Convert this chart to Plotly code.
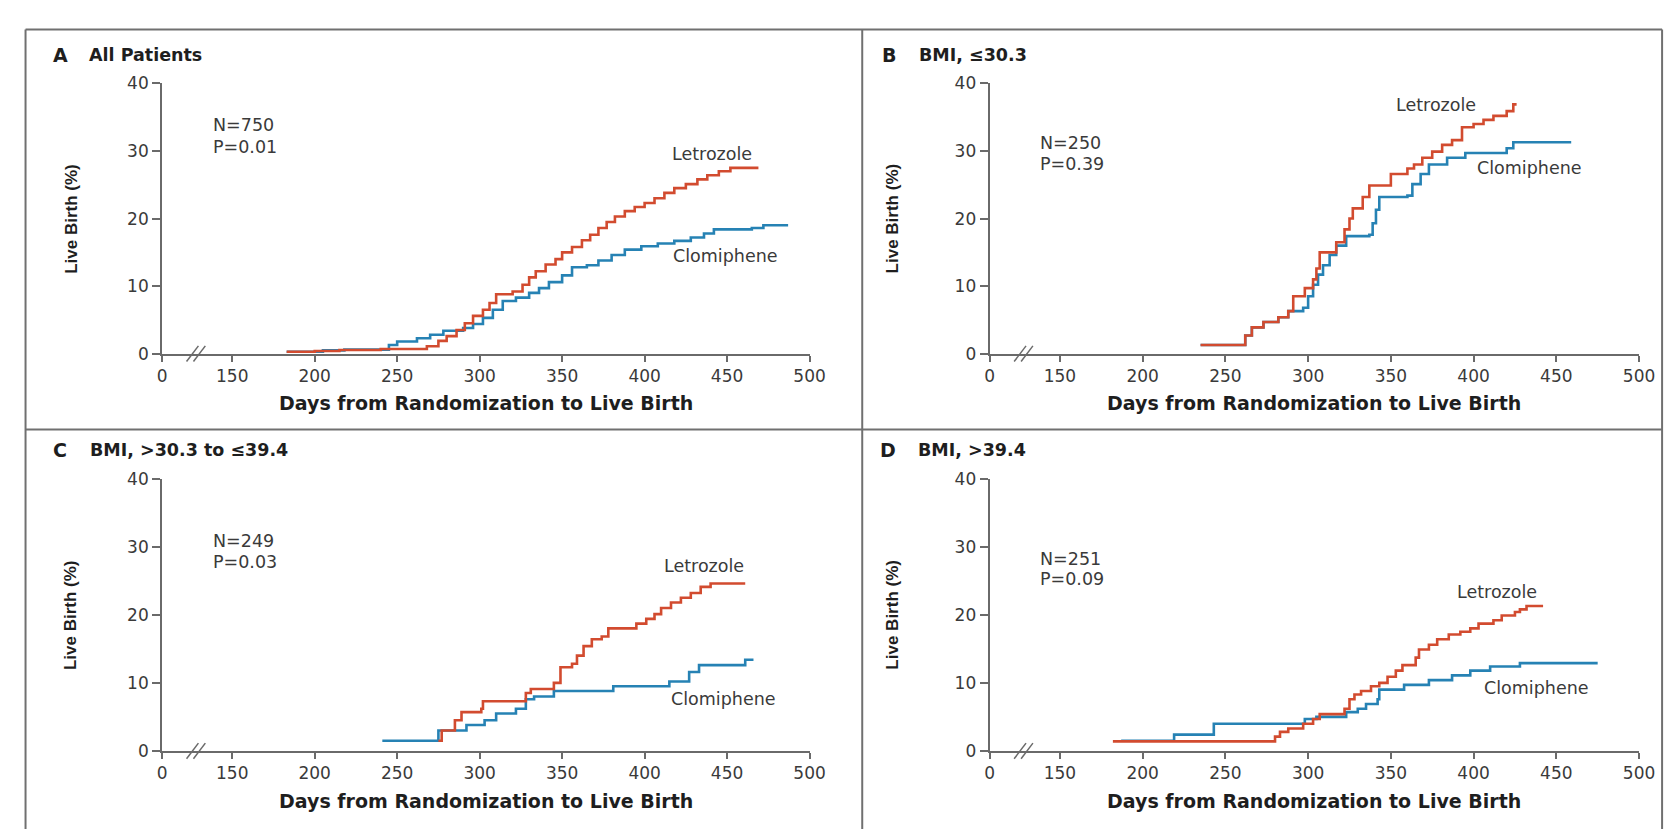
import plotly.graph_objects as go

# ------------------------------------------------------------------ data
x_tick_vals = [150, 200, 250, 300, 350, 400, 450, 500]
x_tick_text = ["150", "200", "250", "300", "350", "400", "450", "500"]
y_tick_vals = [0, 10, 20, 30, 40]

panel_letters = ["A", "B", "C", "D"]
panel_titles = ["All Patients", "BMI, \u226430.3", "BMI, >30.3 to \u226439.4", "BMI, >39.4"]
panel_n = ["N=750", "N=250", "N=249", "N=251"]
panel_p = ["P=0.01", "P=0.39", "P=0.03", "P=0.09"]

# Panel A: all patients
a_let_days = [183, 200, 215, 240, 268, 275, 280, 286, 291, 296, 302, 306, 310, 320, 326, 330, 334, 340,
              346, 350, 356, 362, 367, 372, 377, 382, 388, 394, 400, 406, 412, 418, 425, 432, 438, 445,
              452, 469]
a_let_pct = [0.3, 0.4, 0.55, 0.7, 1.1, 1.9, 2.6, 3.5, 4.5, 5.6, 6.5, 7.5, 8.8, 9.2, 10.2, 11.3, 12.2, 13.2,
             14.0, 15.0, 15.8, 16.8, 17.6, 18.6, 19.5, 20.3, 21.1, 21.7, 22.3, 23.0, 23.8, 24.5, 25.1, 25.8,
             26.4, 27.0, 27.5, 27.5]
a_clo_days = [183, 205, 218, 245, 250, 262, 270, 278, 290, 296, 302, 308, 314, 322, 330, 336, 342, 350,
              356, 365, 372, 380, 388, 398, 408, 418, 428, 436, 442, 465, 472, 487]
a_clo_pct = [0.3, 0.5, 0.6, 1.3, 1.8, 2.3, 2.8, 3.4, 3.8, 4.4, 5.3, 6.5, 7.8, 8.3, 9.0, 9.7, 10.6, 11.6,
             12.8, 13.1, 13.8, 14.6, 15.4, 15.9, 16.3, 16.7, 17.2, 17.8, 18.4, 18.6, 19.0, 19.0]

# Panel B: BMI <= 30.3
b_let_days = [235, 262, 266, 273, 282, 288, 291, 298, 303, 305, 307, 317, 322, 325, 327, 333, 337, 350,
              360, 364, 369, 375, 381, 387, 393, 400, 406, 412, 420, 424, 426]
b_let_pct = [1.3, 2.7, 3.9, 4.7, 5.4, 6.3, 8.5, 9.7, 11.0, 12.6, 15.0, 16.5, 18.4, 20.0, 21.5, 23.2, 24.9,
             26.6, 27.4, 28.0, 29.0, 29.9, 30.9, 31.6, 33.5, 34.0, 34.6, 35.2, 35.9, 36.9, 36.9]
b_clo_days = [235, 262, 266, 273, 282, 288, 297, 300, 303, 306, 309, 313, 317, 323, 337, 339, 341, 343,
              360, 363, 368, 373, 384, 395, 420, 424, 459]
b_clo_pct = [1.3, 2.7, 3.9, 4.7, 5.4, 6.3, 6.8, 8.5, 10.2, 11.7, 13.1, 14.6, 16.0, 17.4, 17.6, 19.3, 21.3,
             23.2, 23.4, 25.1, 26.6, 28.0, 29.0, 29.7, 30.4, 31.3, 31.3]

# Panel C: BMI > 30.3 to <= 39.4
c_let_days = [275, 277, 285, 289, 301, 302, 328, 331, 345, 349, 356, 359, 363, 368, 374, 378, 395, 401, 406,
              410, 416, 422, 428, 434, 440, 461]
c_let_pct = [1.5, 3.0, 4.5, 5.7, 6.2, 7.3, 8.5, 9.1, 10.0, 12.3, 12.8, 14.0, 15.4, 16.4, 16.8, 18.0, 18.7,
             19.4, 20.1, 21.0, 21.8, 22.5, 23.2, 24.1, 24.6, 24.6]
c_clo_days = [241, 275, 292, 303, 310, 322, 328, 333, 345, 381, 415, 427, 433, 461, 466]
c_clo_pct = [1.5, 3.0, 3.8, 4.5, 5.5, 6.2, 7.6, 8.0, 8.8, 9.5, 10.2, 11.6, 12.6, 13.4, 13.4]

# Panel D: BMI > 39.4
d_let_days = [182, 280, 283, 288, 297, 303, 307, 322, 325, 328, 332, 338, 343, 348, 353, 357, 365, 367,
              373, 378, 385, 392, 398, 403, 412, 417, 425, 428, 432, 442]
d_let_pct = [1.4, 2.1, 2.8, 3.3, 4.0, 4.7, 5.4, 6.2, 7.6, 8.3, 8.8, 9.5, 10.0, 10.9, 11.8, 12.6, 13.7, 14.9,
             15.6, 16.4, 17.1, 17.5, 18.0, 18.7, 19.2, 19.9, 20.4, 20.8, 21.3, 21.3]
d_clo_days = [187, 219, 243, 298, 305, 323, 330, 335, 342, 343, 358, 373, 387, 398, 410, 428, 475]
d_clo_pct = [1.5, 2.4, 4.0, 4.7, 5.0, 5.7, 6.2, 6.9, 7.6, 9.0, 9.7, 10.4, 11.1, 11.8, 12.4, 12.9, 12.9]

# label positions (day, %)
let_label_pos = [(441, 29.6), (377, 36.8), (436, 27.2), (414, 23.4)]
clo_label_pos = [(449, 14.4), (434, 27.5), (448, 7.6), (438, 9.2)]
np_text_y = [(33.8, 30.6), (31.2, 28.0), (30.8, 27.8), (28.2, 25.3)]
break_day = 128

# ------------------------------------------------------------------ layout geometry (pixels)
W, H = 1677, 831
X_START = 107.5               # day-equivalent where the broken axis begins ("0")
RED = "#d24b2f"
BLUE = "#2682b4"
AXIS_COL = "#6a6a6a"
TEXT_COL = "#3a3a3a"
BORDER_COL = "#707070"
FONT = "DejaVu Sans, Open Sans, sans-serif"

# per panel: y-axis x, x of the 500 tick, y of 0, y of 40, letter x, title text x, title y, y-title x
geo = [
    dict(x0=151, x1=807, y0=344, y1=67, lx=38, tx=75, ty=38, yt=59),
    dict(x0=989, x1=1647, y0=344, y1=67, lx=878, tx=915, ty=38, yt=891),
    dict(x0=151, x1=807, y0=751, y1=472, lx=38, tx=76, ty=443, yt=59),
    dict(x0=989, x1=1647, y0=751, y1=472, lx=876, tx=914, ty=443, yt=891),
]

def px(x):
    return x / W

def py(y):
    return 1 - y / H

data = [
    (a_let_days, a_let_pct, a_clo_days, a_clo_pct),
    (b_let_days, b_let_pct, b_clo_days, b_clo_pct),
    (c_let_days, c_let_pct, c_clo_days, c_clo_pct),
    (d_let_days, d_let_pct, d_clo_days, d_clo_pct),
]

fig = go.Figure()
annotations = []
shapes = []

tick_font = dict(family=FONT, size=17, color=TEXT_COL)
label_font = dict(family=FONT, size=17.5, color=TEXT_COL)

for i, g in enumerate(geo):
    xa = "x" if i == 0 else f"x{i+1}"
    ya = "y" if i == 0 else f"y{i+1}"
    xkey = "xaxis" if i == 0 else f"xaxis{i+1}"
    ykey = "yaxis" if i == 0 else f"yaxis{i+1}"
    ld, lp, cd, cp = data[i]
    fig.add_trace(go.Scatter(x=cd, y=cp, mode="lines", line=dict(color=BLUE, width=2.6, shape="hv"),
                             xaxis=xa, yaxis=ya, showlegend=False, hoverinfo="skip"))
    fig.add_trace(go.Scatter(x=ld, y=lp, mode="lines", line=dict(color=RED, width=2.6, shape="hv"),
                             xaxis=xa, yaxis=ya, showlegend=False, hoverinfo="skip"))

    fig.update_layout({
        xkey: dict(domain=[px(g["x0"]), px(g["x1"])], range=[X_START, 500.2], anchor=ya,
                   tickvals=[X_START] + x_tick_vals, ticktext=["0"] + x_tick_text,
                   ticks="outside", ticklen=6, tickwidth=1.5, tickcolor=AXIS_COL,
                   showline=True, linecolor=AXIS_COL, linewidth=2, showgrid=False, zeroline=False,
                   tickfont=tick_font, fixedrange=True),
        ykey: dict(domain=[py(g["y0"]), py(g["y1"])], range=[0, 40], anchor=xa,
                   tickvals=y_tick_vals, ticks="outside", ticklen=8, tickwidth=1.5, tickcolor=AXIS_COL,
                   showline=True, linecolor=AXIS_COL, linewidth=2, showgrid=False, zeroline=False,
                   tickfont=tick_font, fixedrange=True),
    })

    # panel letter and title
    annotations.append(dict(x=px(g["lx"]), y=py(g["ty"]), xref="paper", yref="paper",
                            text=f"<b>{panel_letters[i]}</b>", showarrow=False, xanchor="left",
                            yanchor="middle", font=dict(family=FONT, size=19, color="#1e1e1e")))
    annotations.append(dict(x=px(g["tx"]), y=py(g["ty"]), xref="paper", yref="paper",
                            text=f"<b>{panel_titles[i]}</b>", showarrow=False, xanchor="left",
                            yanchor="middle", font=dict(family=FONT, size=17.5, color="#1e1e1e")))
    # y axis title
    annotations.append(dict(x=px(g["yt"]), y=py((g["y0"] + g["y1"]) / 2), xref="paper", yref="paper",
                            text="<b>Live Birth (%)</b>", showarrow=False, textangle=-90,
                            xanchor="center", yanchor="middle",
                            font=dict(family="Liberation Sans Narrow, Arial Narrow, Liberation Sans, sans-serif",
                                      size=17, color="#1e1e1e")))
    # x axis title
    annotations.append(dict(x=px((g["x0"] + g["x1"]) / 2), y=py(g["y0"] + 51), xref="paper", yref="paper",
                            text="<b>Days from Randomization to Live Birth</b>", showarrow=False,
                            xanchor="center", yanchor="middle",
                            font=dict(family=FONT, size=19, color="#1e1e1e")))
    # N and P
    ny, pyv = np_text_y[i]
    for txt, yy in ((panel_n[i], ny), (panel_p[i], pyv)):
        annotations.append(dict(x=137, y=yy, xref=xa, yref=ya, text=txt, showarrow=False,
                                xanchor="left", yanchor="middle", font=label_font))
    # curve labels
    lx, ly = let_label_pos[i]
    cx, cy = clo_label_pos[i]
    annotations.append(dict(x=lx, y=ly, xref=xa, yref=ya, text="Letrozole", showarrow=False,
                            xanchor="center", yanchor="middle", font=label_font))
    annotations.append(dict(x=cx, y=cy, xref=xa, yref=ya, text="Clomiphene", showarrow=False,
                            xanchor="center", yanchor="middle", font=label_font))

    # axis break marks "//"
    ppd = (g["x1"] - g["x0"]) / (500 - X_START)
    bx = g["x0"] + (break_day - X_START) * ppd
    for off in (-3.5, 3.5):
        shapes.append(dict(type="line", xref="paper", yref="paper",
                           x0=px(bx + off - 6), y0=py(g["y0"] + 8),
                           x1=px(bx + off + 6), y1=py(g["y0"] - 8),
                           line=dict(color=AXIS_COL, width=1.5)))

# panel borders
L, T, R, B = 12.7, 11.7, 1670, 831
MIDX, MIDY = 860, 421.7
for (x0, y0, x1, y1) in [(L, T, R, T), (L, T, L, B), (R, T, R, B), (MIDX, T, MIDX, B), (L, MIDY, R, MIDY)]:
    shapes.append(dict(type="line", xref="paper", yref="paper", x0=px(x0), y0=py(y0), x1=px(x1), y1=py(y1),
                       line=dict(color=BORDER_COL, width=2)))

fig.update_layout(width=W, height=H, autosize=False, margin=dict(l=0, r=0, t=0, b=0),
                  paper_bgcolor="white", plot_bgcolor="white", annotations=annotations, shapes=shapes,
                  showlegend=False)

fig.write_html("out.html", config={"displayModeBar": False})
